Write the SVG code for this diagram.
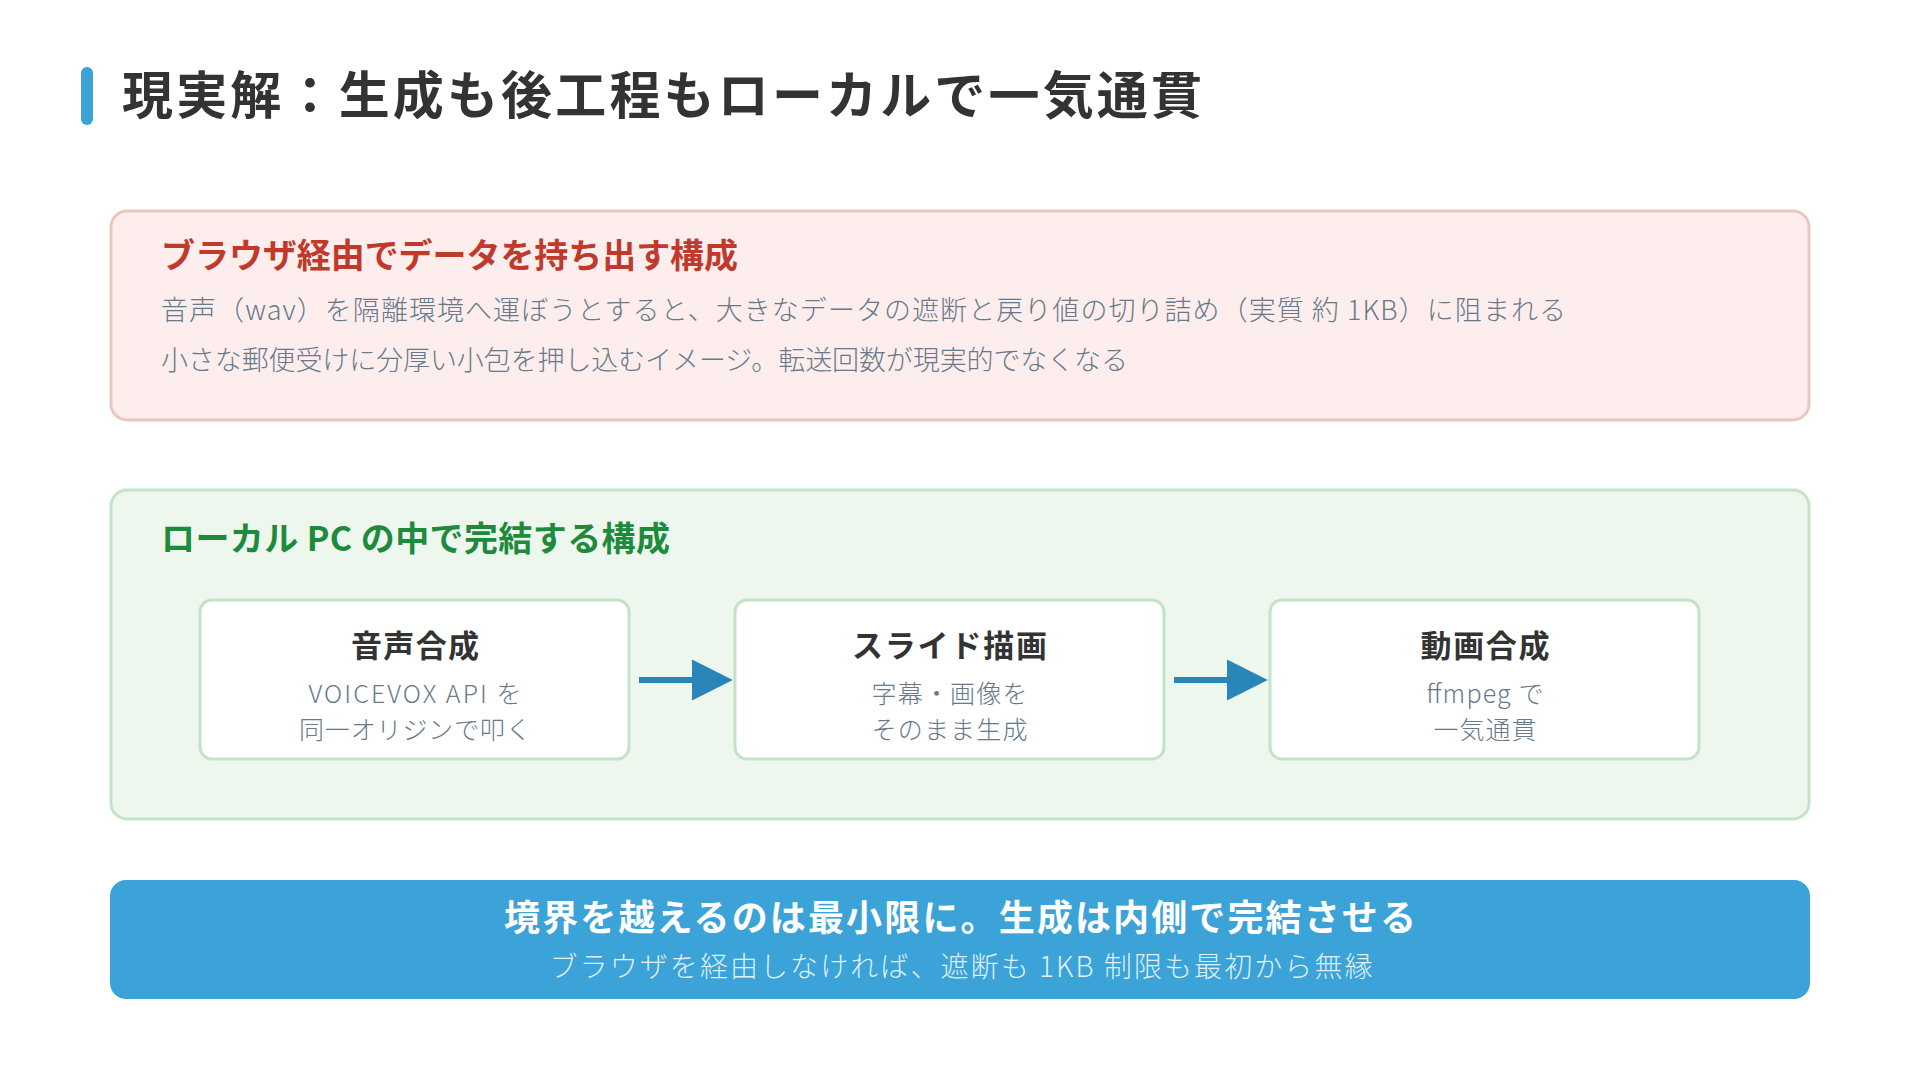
<svg xmlns="http://www.w3.org/2000/svg" width="1920" height="1080" viewBox="0 0 1920 1080">
<defs>
<style>
text{font-family:"Noto Sans CJK JP","Noto Sans",sans-serif}
.title{font-size:51px;font-weight:700;fill:#333333}
.h{font-size:34px;font-weight:700}
.body{font-size:27px;font-weight:300;fill:#67798a}
.ntitle{font-size:31px;font-weight:700;fill:#333333;text-anchor:middle}
.nsub{font-size:25px;font-weight:300;fill:#67798a;text-anchor:middle}
.node{fill:#ffffff;stroke:#c3e3c9;stroke-width:3}
.conn{stroke:#2a86b8;stroke-width:6;fill:none}
</style>
<marker id="ah" viewBox="0 0 10 10" refX="0" refY="5" markerWidth="6.8" markerHeight="7" markerUnits="strokeWidth" orient="auto">
<path d="M0,0 L10,5 L0,10 Z" fill="#2a86b8"/>
</marker>
</defs>
<rect width="1920" height="1080" fill="#ffffff"/>
<g id="title">
<rect x="81" y="67" width="12" height="58" rx="6" fill="#3ba3d8"/>
<text class="title" x="122" y="114" textLength="1080" lengthAdjust="spacing">現実解：生成も後工程もローカルで一気通貫</text>
</g>
<g id="browser-panel">
<rect x="111" y="211" width="1698" height="209" rx="16" fill="#fdeeed" stroke="#e9c6c0" stroke-width="3"/>
<text class="h" x="161" y="268" fill="#c0392b" textLength="577" lengthAdjust="spacing">ブラウザ経由でデータを持ち出す構成</text>
<text class="body" x="161" y="320" textLength="1405" lengthAdjust="spacing">音声（wav）を隔離環境へ運ぼうとすると、大きなデータの遮断と戻り値の切り詰め（実質 約 1KB）に阻まれる</text>
<text class="body" x="161" y="370" textLength="967" lengthAdjust="spacing">小さな郵便受けに分厚い小包を押し込むイメージ。転送回数が現実的でなくなる</text>
</g>
<g id="local-panel">
<rect x="111" y="490" width="1698" height="329" rx="16" fill="#edf7ee" stroke="#c3e3c9" stroke-width="3"/>
<text class="h" x="161" y="551" fill="#1e8a3c" textLength="509" lengthAdjust="spacing">ローカル PC の中で完結する構成</text>
</g>
<g id="node-voice">
<rect class="node" x="200" y="600" width="429" height="159" rx="12"/>
<text class="ntitle" x="415" y="657" textLength="128" lengthAdjust="spacing">音声合成</text>
<text class="nsub" x="415" y="703" textLength="213" lengthAdjust="spacing">VOICEVOX API を</text>
<text class="nsub" x="415" y="739" textLength="232" lengthAdjust="spacing">同一オリジンで叩く</text>
</g>
<g id="node-slide">
<rect class="node" x="735" y="600" width="429" height="159" rx="12"/>
<text class="ntitle" x="949.5" y="657" textLength="195" lengthAdjust="spacing">スライド描画</text>
<text class="nsub" x="949.5" y="703" textLength="156" lengthAdjust="spacing">字幕・画像を</text>
<text class="nsub" x="949.5" y="739" textLength="156" lengthAdjust="spacing">そのまま生成</text>
</g>
<g id="node-video">
<rect class="node" x="1270" y="600" width="429" height="159" rx="12"/>
<text class="ntitle" x="1485" y="657" textLength="129" lengthAdjust="spacing">動画合成</text>
<text class="nsub" x="1485" y="703" textLength="117" lengthAdjust="spacing">ffmpeg で</text>
<text class="nsub" x="1485" y="739" textLength="103" lengthAdjust="spacing">一気通貫</text>
</g>
<g id="connectors">
<line class="conn" x1="639" y1="680" x2="692" y2="680" marker-end="url(#ah)"/>
<line class="conn" x1="1174" y1="680" x2="1227" y2="680" marker-end="url(#ah)"/>
</g>
<g id="conclusion">
<rect x="110" y="880" width="1700" height="119" rx="16" fill="#3ba3d8"/>
<text x="960" y="931" font-size="36" font-weight="700" fill="#ffffff" text-anchor="middle" textLength="912" lengthAdjust="spacing">境界を越えるのは最小限に。生成は内側で完結させる</text>
<text x="961" y="977" font-size="28" font-weight="300" fill="#ffffff" fill-opacity="0.85" text-anchor="middle" textLength="823" lengthAdjust="spacing">ブラウザを経由しなければ、遮断も 1KB 制限も最初から無縁</text>
</g>
</svg>
